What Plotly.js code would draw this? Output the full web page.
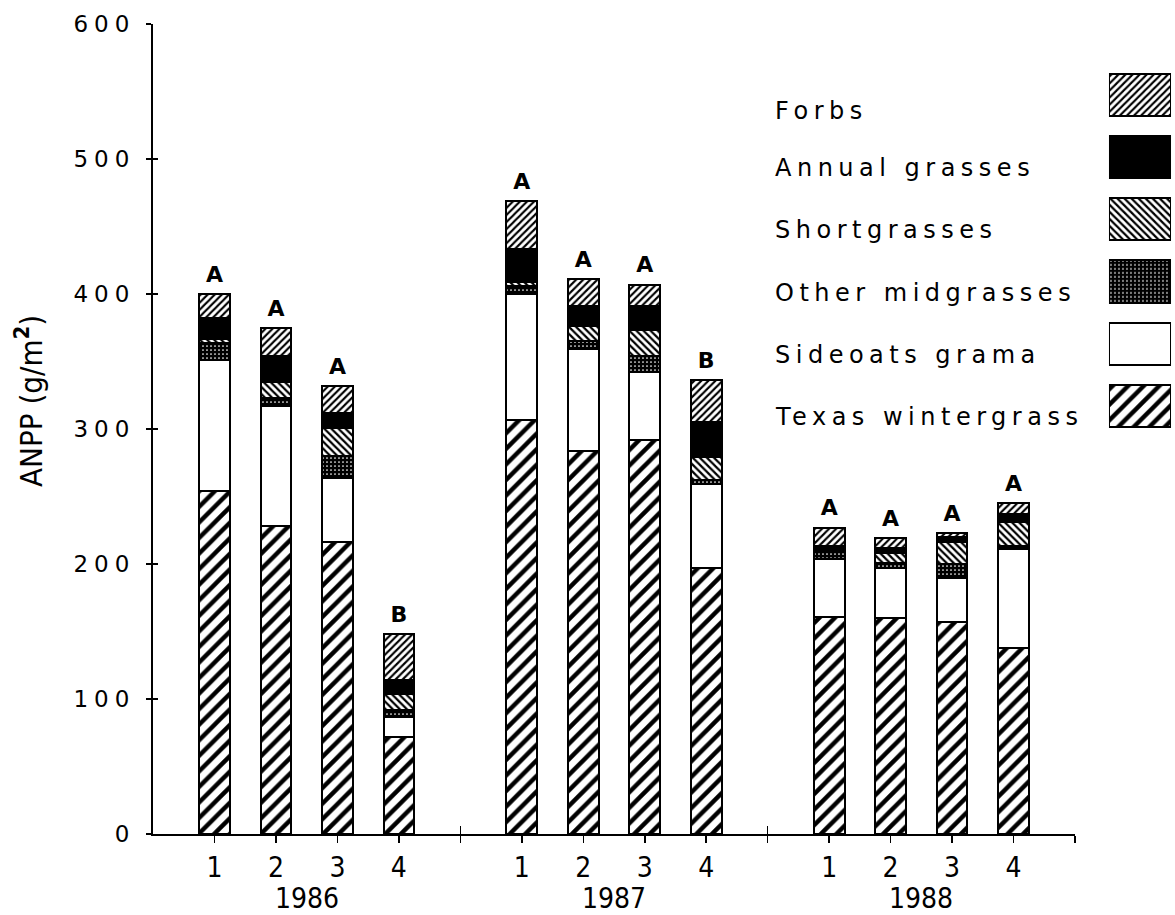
<!DOCTYPE html>
<html><head><meta charset="utf-8">
<script src="https://cdn.plot.ly/plotly-3.0.1.min.js"></script>
<style>
html,body{margin:0;padding:0;background:#fff;}
.ytick text{letter-spacing:6px;}
</style>
</head><body><div id="chart" style="width:1175px;height:915px;"></div>
<script>
// ---- data ----
const years = ['1986', '1987', '1988'];
const treatments = ['1', '2', '3', '4'];
const positions = [1, 2, 3, 4, 6, 7, 8, 9, 11, 12, 13, 14];
const seriesNames = ['Texas wintergrass', 'Sideoats grama', 'Other midgrasses', 'Shortgrasses', 'Annual grasses', 'Forbs'];
const texasWintergrass = [254, 228, 216, 72, 307, 284, 292, 197, 161, 160, 157, 138];
const sideoatsGrama    = [97, 89, 48, 15, 93, 75, 50, 62, 43, 37, 33, 73];
const otherMidgrasses  = [13, 6, 16, 5, 6, 6, 12, 3, 6, 4, 10, 2];
const shortgrasses     = [3, 12, 21, 12, 3, 11, 19, 17, 0, 7, 16, 18];
const annualGrasses    = [15, 19, 11, 10, 24, 15, 18, 26, 3, 4, 4, 6];
const forbs            = [18, 21, 20, 34, 36, 20, 16, 31, 14, 7, 3, 8];
const letters = ['A', 'A', 'A', 'B', 'A', 'A', 'A', 'B', 'A', 'A', 'A', 'A'];

// ---- styles ----
const seriesValues = [texasWintergrass, sideoatsGrama, otherMidgrasses, shortgrasses, annualGrasses, forbs];
const seriesStyle = [
  {color: '#ffffff', pattern: {shape: '/', fgcolor: '#000', bgcolor: '#fff', size: 11, solidity: 0.4}},
  {color: '#ffffff', pattern: {shape: ''}},
  {color: '#000000', pattern: {shape: '.', fgcolor: '#fff', bgcolor: '#000', size: 4, solidity: 0.15}},
  {color: '#ffffff', pattern: {shape: '\\', fgcolor: '#000', bgcolor: '#fff', size: 5, solidity: 0.45}},
  {color: '#000000', pattern: {shape: ''}},
  {color: '#ffffff', pattern: {shape: '/', fgcolor: '#000', bgcolor: '#fff', size: 5, solidity: 0.42}}
];
const lineStyle = {color: '#000', width: 2};
const wideFont = 'DejaVu Sans, sans-serif';
const narrowFont = 'DejaVu Sans Condensed, DejaVu Sans, sans-serif';

const traces = [];
seriesNames.forEach((name, i) => {
  traces.push({
    type: 'bar', name: name, x: positions, y: seriesValues[i], width: 0.5,
    marker: {color: seriesStyle[i].color, pattern: seriesStyle[i].pattern, line: lineStyle},
    showlegend: false, hoverinfo: 'x+y+name'
  });
});
// significance letters
const totals = positions.map((_, j) => seriesValues.reduce((s, arr) => s + arr[j], 0));
traces.push({
  type: 'scatter', mode: 'markers+text', x: positions, y: totals, text: letters,
  marker: {size: 9, color: 'rgba(0,0,0,0)'},
  textposition: 'top center',
  textfont: {family: wideFont, size: 22, color: '#000', weight: 'bold'},
  showlegend: false, hoverinfo: 'skip', cliponaxis: false
});
// legend swatches (reversed order: Forbs on top)
const legendOrder = seriesNames.slice().reverse();
legendOrder.forEach((name) => {
  const i = seriesNames.indexOf(name);
  traces.push({
    type: 'bar', orientation: 'h', y: [name], x: [1], width: 0.68,
    xaxis: 'x2', yaxis: 'y2',
    marker: {color: seriesStyle[i].color, pattern: seriesStyle[i].pattern, line: lineStyle},
    showlegend: false, hoverinfo: 'skip'
  });
});
// invisible helper trace so the overlay axes (inner tick marks) are drawn
traces.push({type: 'scatter', mode: 'markers', x: [positions[0]], y: [0], xaxis: 'x3', yaxis: 'y3',
  marker: {size: 1, color: 'rgba(0,0,0,0)'}, showlegend: false, hoverinfo: 'skip'});

// x ticks: labels under bars, blank at separators
const tickVals = [];
const tickText = [];
for (let k = 1; k <= 15; k++) {
  tickVals.push(k);
  const idx = positions.indexOf(k);
  tickText.push(idx >= 0 ? treatments[idx % 4] : ' ');
}
const separators = [5, 10, 15];
const yTickVals = [0, 100, 200, 300, 400, 500, 600];

const annotations = [];
years.forEach((yr, g) => {
  const grp = positions.slice(g * 4, g * 4 + 4);
  const cx = grp.reduce((a, b) => a + b, 0) / grp.length;
  annotations.push({
    text: yr, x: cx, xref: 'x', y: 0, yref: 'paper', yanchor: 'middle', yshift: -64,
    showarrow: false, font: {family: narrowFont, size: 28, color: '#000'}
  });
});
annotations.push({
  text: 'ANPP (g/m<sup><b>2</b></sup>)', textangle: -90, x: -0.122, xref: 'paper', xanchor: 'center',
  y: 0.535, yref: 'paper', yanchor: 'middle', showarrow: false,
  font: {family: narrowFont, size: 31, color: '#000'}
});
legendOrder.forEach((name, k) => {
  annotations.push({
    text: name, x: 0.6067, xref: 'paper', xanchor: 'left', align: 'left', y: name, yref: 'y2', yanchor: 'middle',
    yshift: k === 0 ? -16 : -11, showarrow: false, font: {family: wideFont, size: 24, color: '#000'}
  });
});

const layout = {
  width: 1175, height: 915,
  margin: {l: 153, r: 0, t: 24, b: 81},
  paper_bgcolor: '#fff', plot_bgcolor: 'rgba(0,0,0,0)',
  barmode: 'stack', showlegend: false,
  font: {family: wideFont, color: '#000'},
  xaxis: {
    domain: [0, 0.9022], range: [0, 15], showgrid: false, zeroline: false,
    showline: true, linecolor: '#000', linewidth: 2,
    tickmode: 'array', tickvals: tickVals, ticktext: tickText,
    ticks: 'outside', ticklen: 7, tickwidth: 1.5, tickcolor: '#000', ticklabelstandoff: 0,
    tickfont: {family: narrowFont, size: 28, color: '#000'}
  },
  yaxis: {
    range: [0, 600], showgrid: false, zeroline: false,
    showline: true, linecolor: '#000', linewidth: 2,
    tickmode: 'array', tickvals: yTickVals,
    ticks: 'outside', ticklen: 5, tickwidth: 1.5, tickcolor: '#000',
    ticklabelstandoff: 6,
    tickfont: {family: wideFont, size: 23, color: '#000'}
  },
  xaxis3: {overlaying: 'x', anchor: 'y3', range: [0, 15], showgrid: false, zeroline: false, showline: false,
    tickmode: 'array', tickvals: separators, ticks: 'inside', ticklen: 8, tickwidth: 1.5, tickcolor: '#000',
    showticklabels: false},
  yaxis3: {overlaying: 'y', anchor: 'x3', range: [0, 600], showgrid: false, zeroline: false, showline: false,
    tickmode: 'array', tickvals: yTickVals, ticks: 'inside', ticklen: 5, tickwidth: 1.5, tickcolor: '#000',
    showticklabels: false},
  xaxis2: {domain: [0.9354, 0.9961], anchor: 'y2', range: [0, 1], visible: false, fixedrange: true},
  yaxis2: {domain: [0.4899, 0.9521], anchor: 'x2', type: 'category', categoryorder: 'array',
    categoryarray: legendOrder, autorange: 'reversed', visible: false, fixedrange: true},
  annotations: annotations
};

// widen the legend labels' letter spacing (they follow the 4 first annotations)
const st = document.createElement('style');
st.textContent = [4, 5, 6, 7, 8, 9].map(i => 'g.annotation[data-index="' + i + '"] text').join(',') + '{letter-spacing:5.5px;}';
document.head.appendChild(st);

Plotly.newPlot('chart', traces, layout, {displayModeBar: false, staticPlot: true});
</script>
</body></html>
